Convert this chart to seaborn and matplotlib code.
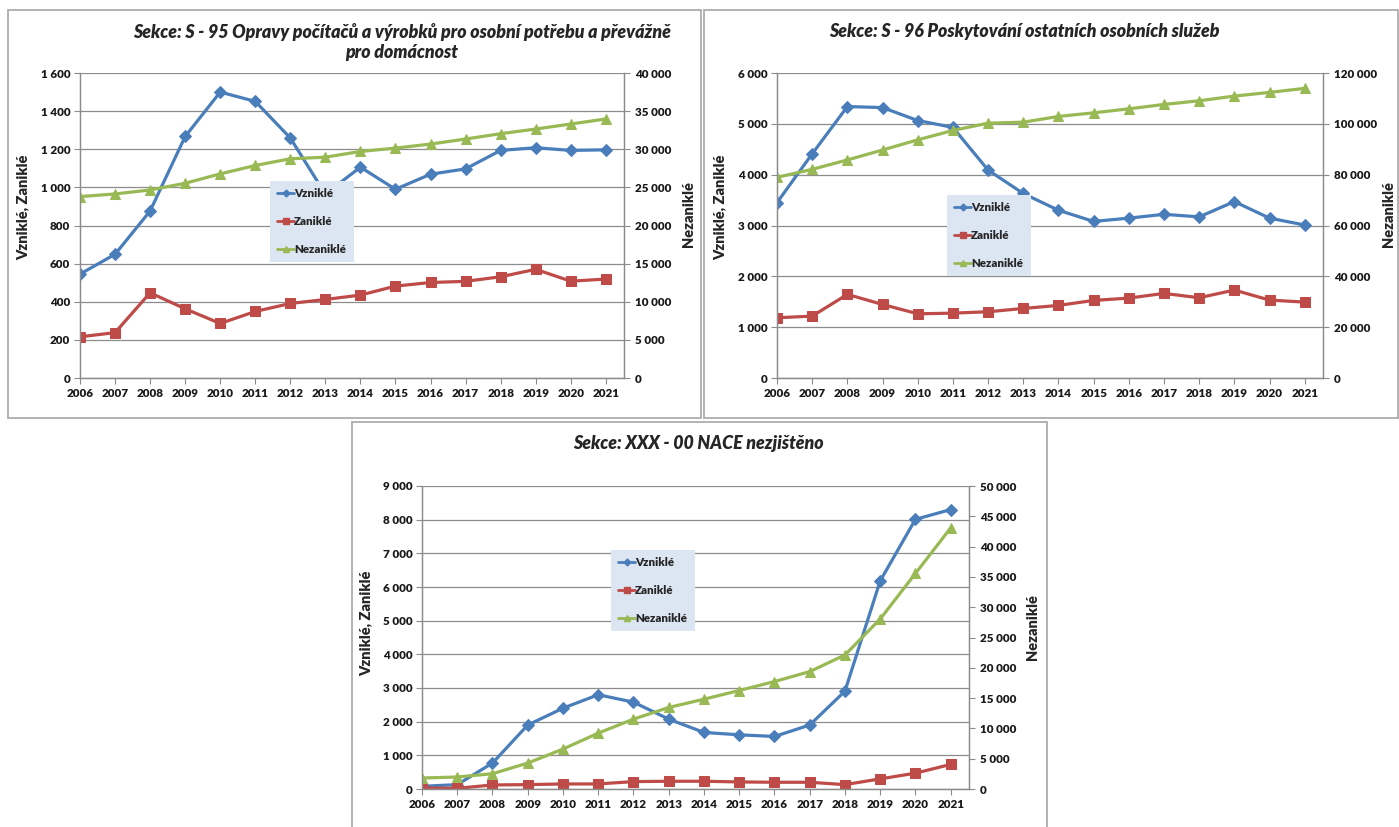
import matplotlib
matplotlib.use("Agg")
import matplotlib.pyplot as plt
from matplotlib.lines import Line2D
from matplotlib.patches import Rectangle
import seaborn as sns

# --- data ---
years = list(range(2006, 2022))

s95_title = "Sekce: S - 95 Opravy počítačů a výrobků pro osobní potřebu a převážně\npro domácnost"
s95_vznikle = [545, 649, 876, 1267, 1500, 1451, 1259, 965, 1106, 990, 1069, 1097, 1194, 1208, 1194, 1197]
s95_zanikle = [216, 238, 447, 363, 286, 349, 391, 412, 435, 482, 501, 507, 531, 570, 508, 519]
s95_nezanikle = [23790, 24140, 24660, 25540, 26770, 27870, 28750, 28960, 29710, 30150,
                 30680, 31340, 32040, 32650, 33310, 33970]

s96_title = "Sekce: S - 96 Poskytování ostatních osobních služeb"
s96_vznikle = [3450, 4410, 5340, 5320, 5065, 4930, 4090, 3630, 3300, 3080, 3145, 3220, 3170, 3470, 3145, 3010]
s96_zanikle = [1185, 1217, 1645, 1447, 1263, 1276, 1303, 1368, 1428, 1526, 1572, 1664, 1579, 1730, 1533, 1493]
s96_nezanikle = [78950, 82100, 85800, 89700, 93700, 97400, 100260, 100650, 102900, 104340,
                 105900, 107630, 109070, 110920, 112370, 113950]

xxx_title = "Sekce: XXX - 00 NACE nezjištěno"
xxx_vznikle = [80, 130, 770, 1900, 2400, 2800, 2580, 2075, 1680, 1610, 1560, 1900, 2905, 6180, 8010, 8300]
xxx_zanikle = [30, 20, 120, 130, 150, 150, 220, 230, 230, 210, 200, 200, 130, 300, 470, 730]
xxx_nezanikle = [1810, 1980, 2520, 4280, 6590, 9220, 11530, 13450, 14820, 16250,
                 17730, 19370, 22120, 28050, 35570, 43080]

labels = ["Vzniklé", "Zaniklé", "Nezaniklé"]

sns.set_style("white")
plt.rcParams["font.family"] = ["Lato", "DejaVu Sans"]

BLUE = "#4a7ebb"
RED = "#be4b48"
GREEN = "#98b954"
GRID = "#8c8c8c"
W, H = 1399, 827


def fx(x):
    return x / W


def fy(y):
    return 1 - y / H


def space_thousands(v):
    return f"{int(round(v)):,}".replace(",", " ")


def panel(fig, box, frame, title, title_xy, vz, za, ne, lmax, lstep, rmax, rstep,
          legend_xy, ylab_xy, ylab2_xy):
    x0, y0, x1, y1 = box
    ax = fig.add_axes([fx(x0), fy(y1), fx(x1 - x0), (y1 - y0) / H])
    ax2 = ax.twinx()

    sns.lineplot(x=years, y=vz, ax=ax, color=BLUE, marker="D", markersize=6,
                 linewidth=2.3, markeredgecolor=BLUE, legend=False)
    sns.lineplot(x=years, y=za, ax=ax, color=RED, marker="s", markersize=7,
                 linewidth=2.3, markeredgecolor=RED, legend=False)
    sns.lineplot(x=years, y=ne, ax=ax2, color=GREEN, marker="^", markersize=7.5,
                 linewidth=2.3, markeredgecolor=GREEN, legend=False)

    ax.set_xlim(2006, 2021.52)
    ax.set_ylim(0, lmax)
    ax2.set_ylim(0, rmax)

    tick_font = dict(fontsize=8.4, fontweight="heavy", color="#1a1a1a")
    lticks = list(range(0, lmax + 1, lstep))
    rticks = list(range(0, rmax + 1, rstep))
    ax.set_xticks(years, labels=[str(y) for y in years], **tick_font)
    ax.set_yticks(lticks, labels=[space_thousands(v) for v in lticks], **tick_font)
    ax2.set_yticks(rticks, labels=[space_thousands(v) for v in rticks], **tick_font)
    ax.set_xlabel("")
    ax.set_ylabel("")
    ax2.set_ylabel("")

    ax.grid(axis="y", color=GRID, linewidth=0.9)
    ax.grid(axis="x", visible=False)
    ax2.grid(False)
    for a in (ax, ax2):
        for side in ("left", "right", "bottom", "top"):
            a.spines[side].set_color(GRID)
            a.spines[side].set_linewidth(0.9)
        a.spines["top"].set_visible(False)
    ax.tick_params(axis="both", direction="out", length=4, width=0.8, color=GRID, pad=3)
    ax.tick_params(axis="y", left=True)
    ax.tick_params(axis="x", bottom=True)
    ax2.tick_params(axis="y", direction="out", length=4, width=0.8, color=GRID,
                    pad=4, right=True)

    fig.text(fx(title_xy[0]), fy(title_xy[1]), title, ha="center", va="center",
             fontsize=12.8, fontweight="heavy", fontstyle="italic", linespacing=1.2)
    fig.text(fx(ylab_xy[0]), fy(ylab_xy[1]), "Vzniklé, Zaniklé", rotation=90,
             ha="center", va="center", fontsize=10.5, fontweight="heavy")
    fig.text(fx(ylab2_xy[0]), fy(ylab2_xy[1]), "Nezaniklé", rotation=90,
             ha="center", va="center", fontsize=10.5, fontweight="heavy")

    handles = [
        Line2D([], [], color=BLUE, marker="D", markersize=3.5, linewidth=2),
        Line2D([], [], color=RED, marker="s", markersize=4.5, linewidth=2),
        Line2D([], [], color=GREEN, marker="^", markersize=5, linewidth=2),
    ]
    fig.legend(handles, labels, loc="upper left",
               bbox_to_anchor=(fx(legend_xy[0]), fy(legend_xy[1])),
               frameon=True, facecolor="#dce6f2", edgecolor="none",
               fancybox=False, framealpha=1,
               prop=dict(size=8.3, weight="heavy"),
               handlelength=1.4, handletextpad=0.05, labelspacing=1.45,
               borderpad=0.65, borderaxespad=0)

    fx0, fy0, fx1, fy1 = frame
    fig.patches.append(Rectangle((fx(fx0), fy(fy1)), fx(fx1 - fx0), (fy1 - fy0) / H,
                                 transform=fig.transFigure, fill=False,
                                 edgecolor="#a6a6a6", linewidth=1.2))
    return ax, ax2


fig = plt.figure(figsize=(W / 100, H / 100), dpi=100)
fig.patch.set_facecolor("white")

panel(fig, (80, 73, 624, 378), (8, 10, 701, 418), s95_title, (402, 42),
      s95_vznikle, s95_zanikle, s95_nezanikle, 1600, 200, 40000, 5000,
      (270, 181), (23, 207), (689, 214))

panel(fig, (777, 73, 1323, 378), (704, 10, 1398, 418), s96_title, (1024, 32),
      s96_vznikle, s96_zanikle, s96_nezanikle, 6000, 1000, 120000, 20000,
      (947, 195), (720, 207), (1389, 214))

panel(fig, (422, 486, 969, 789), (352, 422, 1047, 830), xxx_title, (698, 444),
      xxx_vznikle, xxx_zanikle, xxx_nezanikle, 9000, 1000, 50000, 5000,
      (611, 550), (366, 623), (1032, 627))

fig.savefig("out.png", dpi=100, facecolor="white")
